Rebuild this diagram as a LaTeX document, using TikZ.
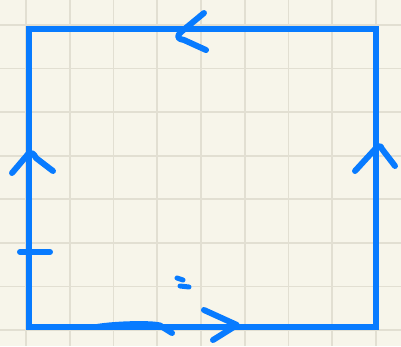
\documentclass[tikz,border=0pt]{standalone}
\definecolor{paper}{RGB}{247,245,234}
\definecolor{gridc}{RGB}{226,223,210}
\definecolor{pen}{RGB}{8,123,255}
\begin{document}
\begin{tikzpicture}[x=1pt,y=-1pt,
  gridline/.style={draw=gridc,line width=1.7pt},
  ink/.style={draw=pen,line width=6pt,line cap=round,line join=round},
  frame/.style={draw=pen,line width=6pt,line join=miter}]
\fill[paper] (0,0) rectangle (401,346);
\useasboundingbox (0,0) rectangle (401,346);
\foreach \i in {0,...,8} \draw[gridline] ({26+43.75*\i},0) -- ({26+43.75*\i},346);
\foreach \j in {0,...,7} \draw[gridline] (0,{25+43.57*\j}) -- (401,{25+43.57*\j});
% square
\coordinate (tl) at (29,29);
\coordinate (tr) at (376,29);
\coordinate (br) at (376,327);
\coordinate (bl) at (29,327);
\draw[frame] (tl) -- (tr) -- (br) -- (bl) -- cycle;
% top arrow
\draw[ink] (204,13) -- (181,32) .. controls (176,37) and (178,39) .. (184,40) -- (206,50);
% left arrow
\draw[ink] (12,173) -- (29,153) .. controls (32,152) and (34,154) .. (36,158) -- (53,171);
% right arrow
\draw[ink] (355,171) -- (377,147) .. controls (379,145) and (381,146) .. (382,149) -- (395,166);
% bottom arrow
\draw[ink] (204,310) -- (237,325) -- (213,340);
% bottom thickened stroke
\draw[ink] (97,327) .. controls (115,324) and (150,323) .. (160,325.5) -- (172,333);
% tick
\draw[ink] (20,252) -- (50,252);
% small marks
\draw[ink,line width=5pt] (177,278) -- (183,280);
\draw[ink,line width=5pt] (180,286) -- (189,287);
\end{tikzpicture}
\end{document}
